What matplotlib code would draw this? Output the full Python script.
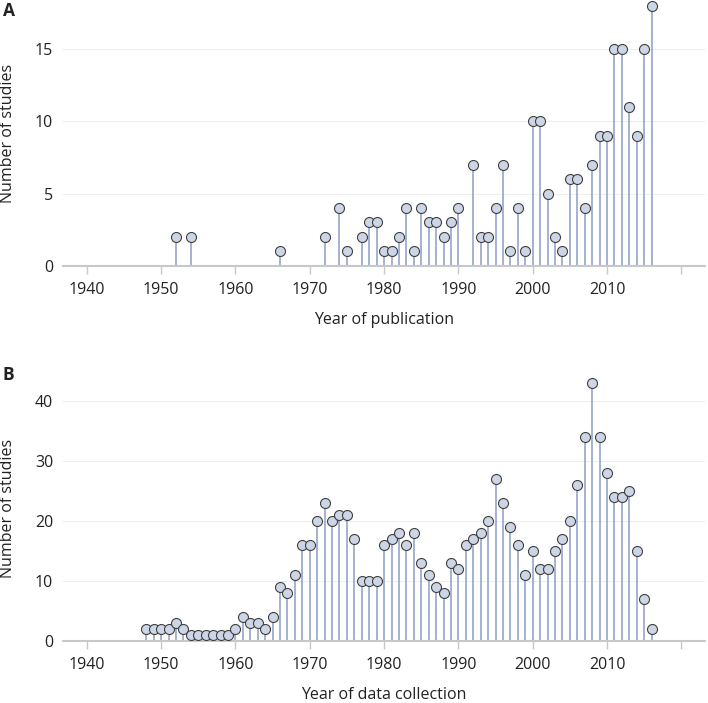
import matplotlib
matplotlib.use('Agg')
import matplotlib.pyplot as plt
import numpy as np

# Panel A: year of publication
pub_years = [1952, 1954, 1966, 1972, 1974, 1975, 1977, 1978, 1979, 1980,
             1981, 1982, 1983, 1984, 1985, 1986, 1987, 1988, 1989, 1990,
             1992, 1993, 1994, 1995, 1996, 1997, 1998, 1999, 2000, 2001,
             2002, 2003, 2004, 2005, 2006, 2007, 2008, 2009, 2010, 2011,
             2012, 2013, 2014, 2015, 2016]
pub_counts = [2, 2, 1, 2, 4, 1, 2, 3, 3, 1,
              1, 2, 4, 1, 4, 3, 3, 2, 3, 4,
              7, 2, 2, 4, 7, 1, 4, 1, 10, 10,
              5, 2, 1, 6, 6, 4, 7, 9, 9, 15,
              15, 11, 9, 15, 18]

# Panel B: year of data collection
col_years = list(range(1948, 2017))
col_counts = [2, 2, 2, 2, 3, 2, 1, 1, 1, 1, 1, 1, 2,          # 1948-1960
              4, 3, 3, 2, 4, 9, 8, 11, 16, 16,                # 1961-1970
              20, 23, 20, 21, 21, 17, 10, 10, 10, 16,         # 1971-1980
              17, 18, 16, 18, 13, 11, 9, 8, 13, 12,           # 1981-1990
              16, 17, 18, 20, 27, 23, 19, 16, 11, 15,         # 1991-2000
              12, 12, 15, 17, 20, 26, 34, 43, 34, 28,         # 2001-2010
              24, 24, 25, 15, 7, 2]                           # 2011-2016

xticks = [1940, 1950, 1960, 1970, 1980, 1990, 2000, 2010, 2020]
xticklabels = ['1940', '1950', '1960', '1970', '1980', '1990', '2000', '2010', '']

plt.rcParams['font.family'] = ['Open Sans', 'DejaVu Sans']

stem_col = '#8c9dc4'
face_col = '#cdd6e6'
edge_col = '#404040'
axis_col = '#c8c8c8'
text_col = '#222222'

fig = plt.figure(figsize=(7.08, 7.03), dpi=100)
axA = fig.add_axes([0.089, 0.622, 0.907, 0.375])
axB = fig.add_axes([0.089, 0.0886, 0.907, 0.3755])

def draw(ax, years, counts, ymax, yticks, xlabel):
    ax.vlines(years, 0, counts, color=stem_col, lw=1.1, zorder=2)
    ax.plot(years, counts, 'o', ms=7.2, mfc=face_col, mec=edge_col, mew=0.8,
            zorder=3, clip_on=False)
    ax.set_xlim(1936.8, 2023.2)
    ax.set_ylim(0, ymax)
    ax.set_xticks(xticks)
    ax.set_xticklabels(xticklabels)
    ax.set_yticks(yticks)
    for s in ['top', 'right', 'left']:
        ax.spines[s].set_visible(False)
    ax.spines['bottom'].set_color(axis_col)
    ax.spines['bottom'].set_linewidth(1.5)
    ax.tick_params(axis='x', length=6, width=1, color=axis_col, pad=6,
                   labelsize=11.5, labelcolor=text_col)
    ax.tick_params(axis='y', length=0, pad=7, labelsize=11.5, labelcolor=text_col)
    ax.grid(axis='y', color='#eeeeee', lw=0.8, zorder=0)
    ax.set_axisbelow(True)
    ax.set_xlabel(xlabel, fontsize=11.5, color=text_col, labelpad=10)
    ax.set_ylabel('Number of studies', fontsize=11.5, color=text_col, labelpad=14)

draw(axA, pub_years, pub_counts, 18.27, [0, 5, 10, 15], 'Year of publication')
draw(axB, col_years, col_counts, 44, [0, 10, 20, 30, 40], 'Year of data collection')

fig.text(0.004, 0.984, 'A', fontsize=12.5, fontweight='bold', color=text_col, va='center')
fig.text(0.004, 0.467, 'B', fontsize=12.5, fontweight='bold', color=text_col, va='center')

fig.savefig('out.png', dpi=100)
